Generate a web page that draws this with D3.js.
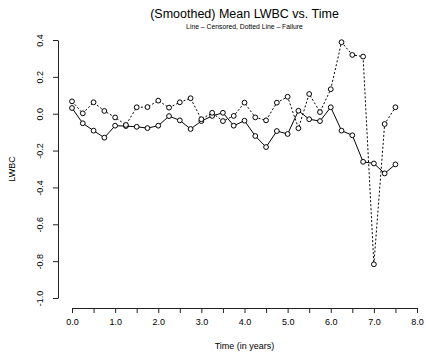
<!DOCTYPE html>
<html>
<head>
<meta charset="utf-8">
<script src="https://cdn.jsdelivr.net/npm/d3@7"></script>
<style>
  body { margin: 0; background: #fff; }
  svg text { font-family: "Liberation Sans", Arial, sans-serif; fill: #000; }
</style>
</head>
<body>
<div id="chart"></div>
<script>
// time points (years), step 0.25
const times = [0, 0.25, 0.5, 0.75, 1, 1.25, 1.5, 1.75, 2, 2.25, 2.5, 2.75, 3, 3.25, 3.5, 3.75,
               4, 4.25, 4.5, 4.75, 5, 5.25, 5.5, 5.75, 6, 6.25, 6.5, 6.75, 7, 7.25, 7.5];

// solid line - censored
const censored = [0.031, -0.052, -0.092, -0.13, -0.065, -0.067, -0.071, -0.078, -0.065, -0.013, -0.036, -0.083,
                  -0.040, -0.012, 0.005, -0.065, -0.038, -0.121, -0.181, -0.094, -0.110, 0.016, -0.030, -0.040,
                  0.035, -0.092, -0.117, -0.261, -0.270, -0.324, -0.275];

// dotted line - failure
const failure = [0.067, 0.002, 0.062, 0.015, -0.02, -0.061, 0.035, 0.036, 0.071, 0.033, 0.062, 0.084,
                 -0.030, 0.005, -0.040, -0.012, 0.060, -0.020, -0.036, 0.060, 0.092, -0.079, 0.107, 0.009,
                 0.133, 0.388, 0.319, 0.310, -0.817, -0.056, 0.035];

const xTicks = [0, 0.5, 1, 1.5, 2, 2.5, 3, 3.5, 4, 4.5, 5, 5.5, 6, 6.5, 7, 7.5, 8];
const xLabels = ["0.0", "1.0", "2.0", "3.0", "4.0", "5.0", "6.0", "7.0", "8.0"];
const yTicks = [0.4, 0.2, 0, -0.2, -0.4, -0.6, -0.8, -1.0];
const yLabels = ["0.4", "0.2", "0.0", "-0.2", "-0.4", "-0.6", "-0.8", "-1.0"];

const W = 426, H = 352;
const svg = d3.select("#chart").append("svg").attr("width", W).attr("height", H);

const x = d3.scaleLinear().domain([0, 8]).range([72, 417]);
const y = d3.scaleLinear().domain([-1, 0.4]).range([298, 40]);

// axes (R style, detached)
const xAxis = svg.append("g")
    .attr("transform", "translate(0,308)")
    .call(d3.axisBottom(x).tickValues(xTicks).tickSize(5).tickSizeOuter(0)
        .tickFormat(d => Number.isInteger(d) ? xLabels[d] : ""));
xAxis.select(".domain").attr("stroke", "#222");
xAxis.selectAll(".tick line").attr("stroke", "#222");
xAxis.selectAll(".tick text").attr("font-size", "9px").attr("dy", "1.05em").attr("fill", "#333");

const yAxis = svg.append("g")
    .attr("transform", "translate(58,0)")
    .call(d3.axisLeft(y).tickValues(yTicks).tickSize(5).tickSizeOuter(0)
        .tickFormat((d, i) => yLabels[i]));
yAxis.select(".domain").attr("stroke", "#222");
yAxis.selectAll(".tick line").attr("stroke", "#222");
yAxis.selectAll(".tick text")
    .attr("font-size", "9px").attr("fill", "#333")
    .attr("text-anchor", "middle")
    .attr("x", null).attr("dy", null)
    .attr("transform", "translate(-15.5,0) rotate(-90)");

// titles
svg.append("text").attr("x", 244.5).attr("y", 18).attr("text-anchor", "middle")
    .attr("font-size", "12.5px").attr("fill", "#111").text("(Smoothed) Mean LWBC vs. Time");
svg.append("text").attr("x", 244.5).attr("y", 29).attr("text-anchor", "middle")
    .attr("font-size", "6.8px").attr("fill", "#222").text("Line \u2013 Censored, Dotted Line \u2013 Failure");
svg.append("text").attr("x", 244.5).attr("y", 349).attr("text-anchor", "middle")
    .attr("font-size", "9px").attr("fill", "#222").text("Time (in years)");
svg.append("text").attr("transform", "translate(15,169) rotate(-90)").attr("text-anchor", "middle")
    .attr("font-size", "9px").attr("fill", "#222").text("LWBC");

// series
const series = [
  { vals: censored, dash: null },
  { vals: failure, dash: "2,2" }
];

const line = d3.line().x(d => x(d.t)).y(d => y(d.v));

series.forEach(s => {
  const pts = times.map((t, i) => ({ t: t, v: s.vals[i] }));
  svg.append("path")
      .datum(pts)
      .attr("fill", "none")
      .attr("stroke", "#000")
      .attr("stroke-width", 1)
      .attr("stroke-dasharray", s.dash)
      .attr("d", line);
});

series.forEach(s => {
  const pts = times.map((t, i) => ({ t: t, v: s.vals[i] }));
  svg.append("g").selectAll("circle")
      .data(pts)
      .join("circle")
      .attr("cx", d => x(d.t))
      .attr("cy", d => y(d.v))
      .attr("r", 2.4)
      .attr("fill", "#fff")
      .attr("stroke", "#000")
      .attr("stroke-width", 1);
});
</script>
</body>
</html>
